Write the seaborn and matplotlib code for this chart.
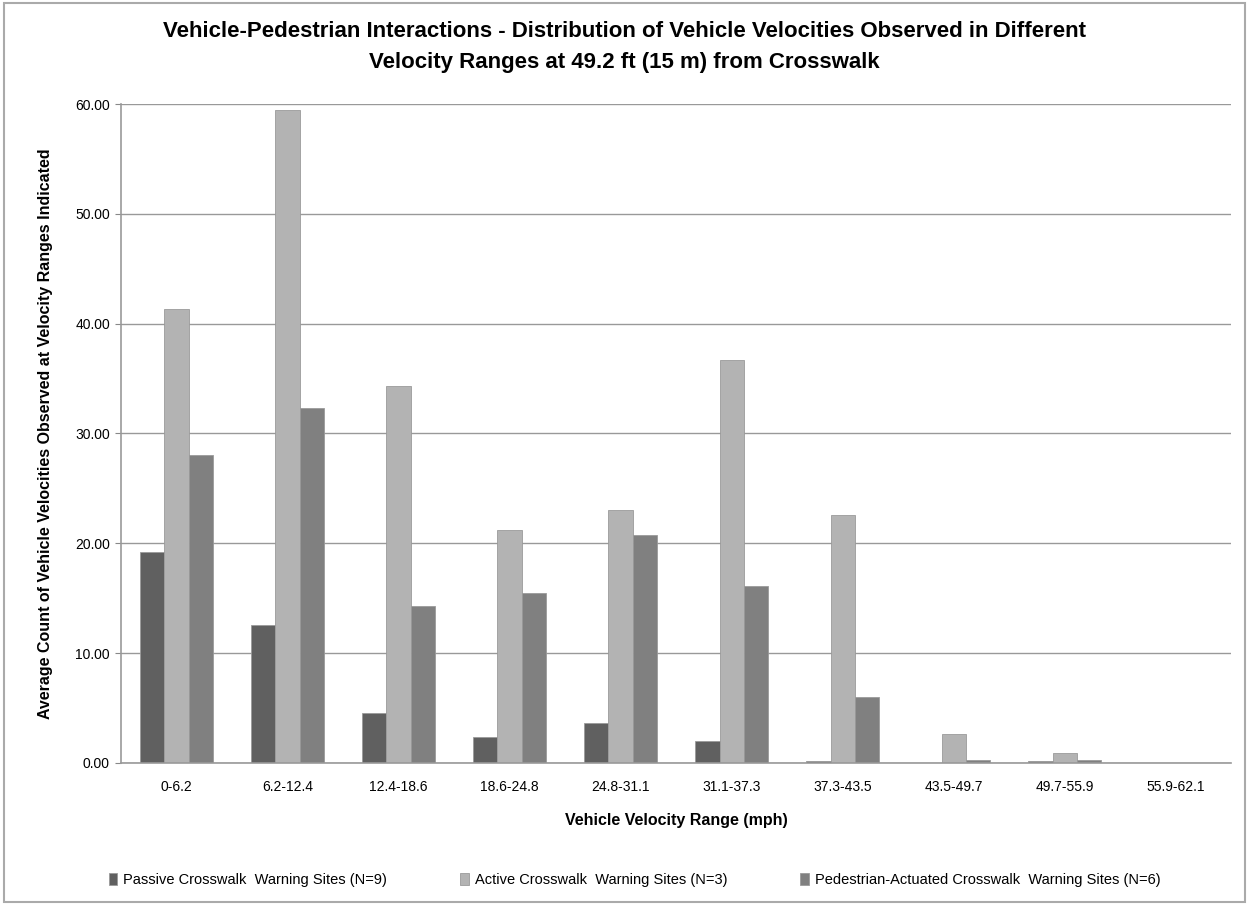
import matplotlib
matplotlib.use("Agg")
import matplotlib.pyplot as plt
import seaborn as sns
import pandas as pd
from matplotlib.patches import Rectangle

categories = ["0-6.2", "6.2-12.4", "12.4-18.6", "18.6-24.8", "24.8-31.1",
              "31.1-37.3", "37.3-43.5", "43.5-49.7", "49.7-55.9", "55.9-62.1"]
series_names = ["Passive Crosswalk  Warning Sites (N=9)",
                "Active Crosswalk  Warning Sites (N=3)",
                "Pedestrian-Actuated Crosswalk  Warning Sites (N=6)"]
passive = [19.2, 12.6, 4.55, 2.4, 3.6, 2.0, 0.2, 0.0, 0.2, 0.0]
active = [41.3, 59.5, 34.3, 21.2, 23.0, 36.7, 22.6, 2.6, 0.9, 0.0]
pedestrian = [28.0, 32.3, 14.3, 15.5, 20.8, 16.1, 6.0, 0.3, 0.3, 0.0]
yticks = [0, 10, 20, 30, 40, 50, 60]
colors = ["#606060", "#b3b3b3", "#808080"]

rows = []
for name, vals in zip(series_names, [passive, active, pedestrian]):
    for c, v in zip(categories, vals):
        rows.append({"Range": c, "Series": name, "Value": v})
df = pd.DataFrame(rows)

sns.set_style("white")
plt.rcParams["font.family"] = ["Liberation Sans Narrow", "Liberation Sans", "DejaVu Sans"]
plt.rcParams["text.color"] = "black"
plt.rcParams["axes.labelcolor"] = "black"
plt.rcParams["xtick.color"] = "black"
plt.rcParams["ytick.color"] = "black"

fig = plt.figure(figsize=(12.49, 9.05), dpi=100)
ax = fig.add_axes([0.0969, 0.157, 0.889, 0.728])
sns.barplot(data=df, x="Range", y="Value", hue="Series", order=categories,
            hue_order=series_names, palette=colors, width=0.66, ax=ax,
            saturation=1, edgecolor="#9a9a9a", linewidth=0.6, legend=True)

ax.set_ylim(0, 60)
ax.set_xlim(-0.5, len(categories) - 0.5)
ax.set_yticks(yticks)
ax.set_yticklabels([f"{v:.2f}" for v in yticks], fontsize=10)
ax.tick_params(axis="x", labelsize=10, pad=12, length=0)
ax.tick_params(axis="y", length=4, color="#888888", left=True, pad=4)
ax.yaxis.grid(True, color="#999999", linewidth=1)
ax.set_axisbelow(True)
for s in ["top", "right"]:
    ax.spines[s].set_visible(False)
for s in ["left", "bottom"]:
    ax.spines[s].set_color("#999999")
    ax.spines[s].set_linewidth(1.2)

ax.set_xlabel("Vehicle Velocity Range (mph)", fontsize=11.5, fontweight="bold", labelpad=14)
ax.set_ylabel("Average Count of Vehicle Velocities Observed at Velocity Ranges Indicated",
              fontsize=11.5, fontweight="bold", labelpad=16)

fig.text(0.5, 0.965, "Vehicle-Pedestrian Interactions - Distribution of Vehicle Velocities Observed in Different",
         ha="center", va="center", fontsize=16, fontweight="bold")
fig.text(0.5, 0.931, "Velocity Ranges at 49.2 ft (15 m) from Crosswalk",
         ha="center", va="center", fontsize=16, fontweight="bold")

handles, labels = ax.get_legend_handles_labels()
ax.legend(handles, labels, loc="center", bbox_to_anchor=(0.508, 0.028),
          bbox_transform=fig.transFigure, ncol=3, frameon=False, fontsize=10.5,
          handlelength=0.6, handleheight=0.9, handletextpad=0.4, columnspacing=5)

fig.patches.append(Rectangle((0.003, 0.003), 0.994, 0.994, transform=fig.transFigure,
                             fill=False, edgecolor="#aaaaaa", linewidth=1.5))
fig.savefig("out.png", dpi=100)
